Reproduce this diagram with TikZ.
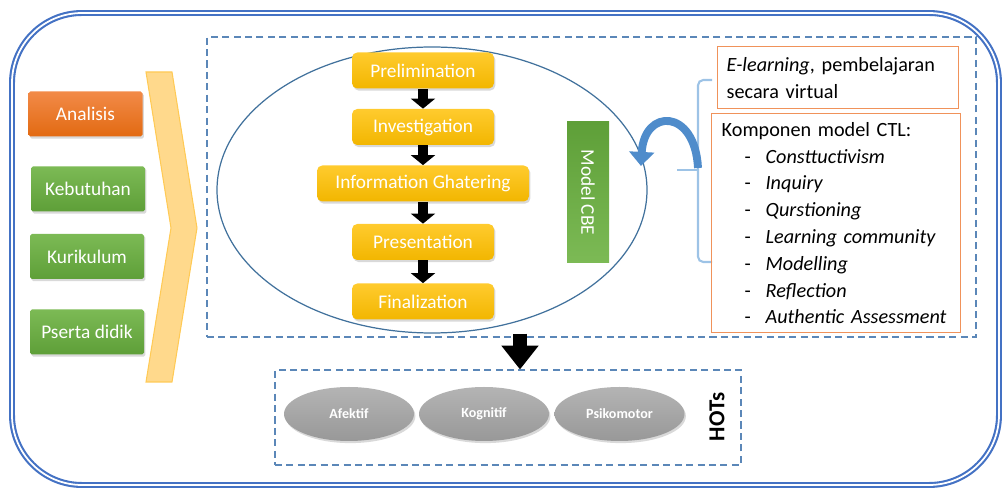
\documentclass[tikz,border=0pt]{standalone}
\usepackage{fontspec}
\setmainfont{Carlito}
\usetikzlibrary{arrows.meta, shapes.geometric, shadows, calc}

\definecolor{frameBlue}{HTML}{4472C4}
\definecolor{dashBlue}{HTML}{5B87B8}
\definecolor{ellBlue}{HTML}{41719C}
\definecolor{orangeTop}{HTML}{F28A48}
\definecolor{orangeBot}{HTML}{E26A12}
\definecolor{greenTop}{HTML}{7CBA55}
\definecolor{greenBot}{HTML}{5E9F38}
\definecolor{yellowTop}{HTML}{FFCB2E}
\definecolor{yellowBot}{HTML}{F2B600}
\definecolor{grayTop}{HTML}{B4B4B4}
\definecolor{grayBot}{HTML}{989898}
\definecolor{chevFill}{HTML}{FFD98C}
\definecolor{chevLine}{HTML}{FFCA55}
\definecolor{boxLine}{HTML}{F0925A}
\definecolor{braceBlue}{HTML}{9DC3E6}
\definecolor{arcBlue}{HTML}{4F8CCB}

% 1 unidade = 1 pixel do esboço
\newlength\unitpx \setlength\unitpx{0.02cm}
\newcommand\ctlitem[1]{\hspace*{13pt}\makebox[12pt][l]{-}\textit{#1}}

\tikzset{
  softShadow/.style={drop shadow={opacity=0.3, shadow xshift=0.8pt, shadow yshift=-1.2pt}},
  % caixas da esquerda (cor como argumento: orange, green)
  leftBox/.style={rectangle, rounded corners=1pt, softShadow,
    top color=#1Top, bottom color=#1Bot, text=white,
    minimum width=114\unitpx, minimum height=45\unitpx,
    font=\fontsize{11}{13}\selectfont},
  stepBox/.style={rectangle, rounded corners=3pt, softShadow,
    top color=yellowTop, bottom color=yellowBot, text=white,
    minimum width=142\unitpx, minimum height=36\unitpx,
    font=\fontsize{11}{13}\selectfont},
  stepArrow/.style={line width=6.2pt, -{Triangle[width=13.6pt, length=5.7pt]}},
  bigArrow/.style={line width=7.9pt, -{Triangle[width=20.4pt, length=13.6pt]}},
  dashBox/.style={draw=dashBlue, line width=0.6pt, dash pattern=on 4pt off 2.5pt, inner sep=0pt},
  infoBox/.style={draw=boxLine, line width=0.8pt, align=left, anchor=north west,
    font=\fontsize{11.5}{15.25}\selectfont},
  hotEll/.style={ellipse, softShadow, top color=grayTop, bottom color=grayBot,
    minimum width=130\unitpx, minimum height=54\unitpx, inner sep=0pt,
    text=white, font=\bfseries\fontsize{8}{9}\selectfont}
}

\begin{document}
\begin{tikzpicture}[x=1\unitpx, y=-1\unitpx]
  \useasboundingbox (0,0) rectangle (1002,489);

  %% --- MOLDURA EXTERNA ---
  \draw[draw=frameBlue, double=white, double distance=1pt, line width=1.2pt,
        rounded corners=1.4cm] (12,13) rectangle (999,485);

  %% --- PARTE 1: ANÁLISE ---
  \node[leftBox=orange] (analisis) at (85.5,114) {Analisis};
  \node[leftBox=green] (kebutuhan) at (88,189) {Kebutuhan};
  \node[leftBox=green] (kurikulum) at (87,256.5) {Kurikulum};
  \node[leftBox=green] (peserta) at (87,332) {Pserta didik};

  % Chevron amarelo
  \filldraw[fill=chevFill, draw=chevLine, line width=0.6pt]
    (146,72) -- (172,72) -- (197,228) -- (172,382) -- (146,382) -- (171,228) -- cycle;

  %% --- PARTE 2: MODELO ---
  \node[dashBox, minimum width=769\unitpx, minimum height=300\unitpx] (main) at (591.5,187) {};

  % Elipse em volta das etapas
  \draw[ellBlue, line width=0.7pt] (432,190) ellipse (215 and 143);

  \node[stepBox] (prel) at (423,70.5) {Prelimination};
  \node[stepBox] (inv) at (423,127) {Investigation};
  \node[stepBox, minimum width=212\unitpx] (info) at (423,183.5) {Information Ghatering};
  \node[stepBox] (pres) at (423,242) {Presentation};
  \node[stepBox] (fin) at (423,301.5) {Finalization};

  \draw[stepArrow] (prel) -- (inv);
  \draw[stepArrow] (inv) -- (info);
  \draw[stepArrow] (info) -- (pres);
  \draw[stepArrow] (pres) -- (fin);

  \node[rectangle, rotate=-90, top color=greenBot, bottom color=greenTop, text=white,
        minimum width=141\unitpx, minimum height=42\unitpx,
        font=\fontsize{11}{13}\selectfont] (cbe) at (588,192.5) {Model CBE};

  % Chave e seta curva
  \coordinate (bTip) at (698,168);
  \coordinate (cbeIn) at (641,166);
  \draw[braceBlue, line width=1.2pt, rounded corners=3pt]
    (712,80) -- (698,80) -- (698,262) -- (712,262);
  \draw[braceBlue, line width=1.2pt] (698,170) -- (677,170);
  \draw[arcBlue, line width=4.5pt, -{Triangle[width=14pt, length=8pt]}]
    (bTip) .. controls (695,108) and (644,108) .. (cbeIn);

  % Caixas de texto
  \node[infoBox, text width=4.46cm, inner xsep=5.1pt, minimum height=62\unitpx] (elearn)
    at (717,46) {\textit{E-learning}, pembelajaran\\secara virtual};
  \node[infoBox, text width=4.58cm, inner xsep=5.7pt, minimum height=219\unitpx] (ctl)
    at (711,113) {Komponen model CTL:\\
      \ctlitem{Consttuctivism}\\
      \ctlitem{Inquiry}\\
      \ctlitem{Qurstioning}\\
      \ctlitem{Learning community}\\
      \ctlitem{Modelling}\\
      \ctlitem{Reflection}\\
      \ctlitem{Authentic Assessment}};

  %% --- PARTE 3: HOTs ---
  \node[dashBox, minimum width=466\unitpx, minimum height=95\unitpx] (hots) at (508,417.5) {};

  \draw[bigArrow, shorten <=-4\unitpx] ([xshift=-71.5\unitpx]main.south) -- ([xshift=12\unitpx]hots.north);

  \node[hotEll] (afektif) at (349,414) {Afektif};
  \node[hotEll] (kognitif) at (484,414) {Kognitif};
  \node[hotEll] (psiko) at (619.5,414) {Psikomotor};

  \node[rotate=90, font=\bfseries\fontsize{13}{15}\selectfont] (hotsLbl) at (717,417) {HOTs};

\end{tikzpicture}
\end{document}
